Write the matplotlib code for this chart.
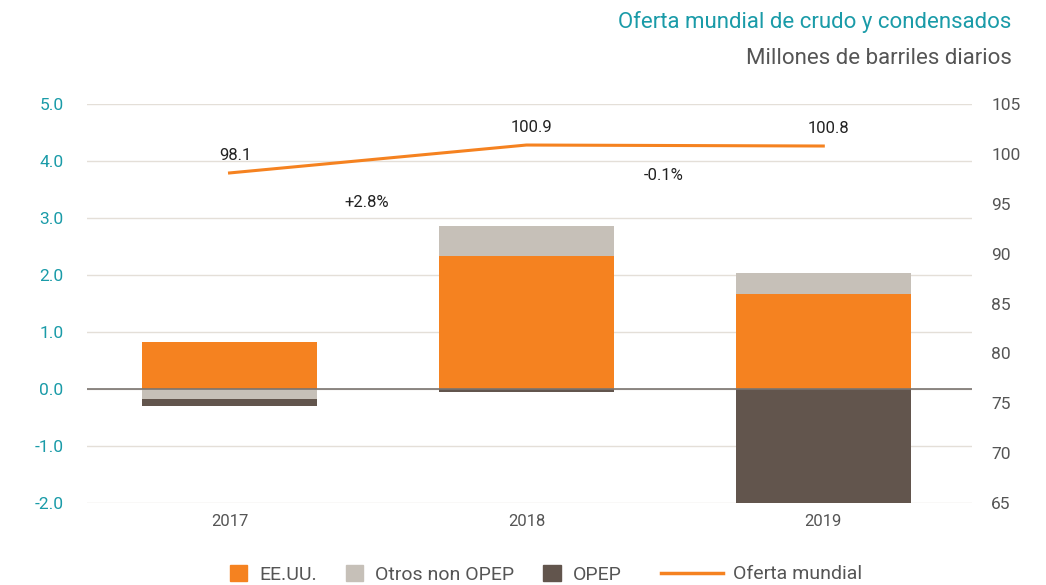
import numpy as np
from matplotlib import pyplot as plt
from matplotlib.lines import Line2D
from matplotlib.patches import Patch

plt.rcParams['font.family'] = ['Roboto', 'DejaVu Sans']

years = ['2017', '2018', '2019']
eeuu = [0.82, 2.33, 1.67]
otros = [-0.18, 0.53, 0.37]
opep = [-0.12, -0.05, -2.0]
oferta = [98.1, 100.9, 100.8]
cambios = ['+2.8%', '-0.1%']

orange = '#F58220'
light = '#C6C0B8'
dark = '#62554D'
teal = '#1A9BA8'
grey = '#555555'

fig = plt.figure(figsize=(10.46, 5.85), dpi=100)
ax = fig.add_axes([0.0832, 0.140, 0.8458, 0.682])
x = np.arange(len(years))
w = 0.59

# stack positives upward, negatives downward
pos = np.zeros(len(years))
neg = np.zeros(len(years))
for vals, col in [(eeuu, orange), (otros, light), (opep, dark)]:
    vals = np.array(vals)
    base = np.where(vals >= 0, pos, neg)
    ax.bar(x, vals, w, bottom=base, color=col, zorder=3)
    pos = pos + np.where(vals >= 0, vals, 0)
    neg = neg + np.where(vals < 0, vals, 0)

ax.set_xlim(-0.48, 2.5)
ax.set_ylim(-2, 5)
ax.set_yticks(np.arange(-2, 5.1, 1))
ax.set_yticklabels([f'{v:.1f}' for v in np.arange(-2, 5.1, 1)])
ax.grid(axis='y', color='#E4DFD8', linewidth=1, zorder=0)
ax.axhline(0, color='#7A7470', linewidth=1.2, zorder=4)
ax.set_xticks(x)
ax.set_xticklabels(years)
for s in ax.spines.values():
    s.set_visible(False)
ax.tick_params(axis='y', length=0, labelsize=12.5, labelcolor=teal, pad=17)
ax.tick_params(axis='x', length=0, labelsize=12, labelcolor=grey, pad=8)

ax2 = ax.twinx()
ax2.plot(x, oferta, color=orange, linewidth=2.2, zorder=5)
ax2.set_ylim(65, 105)
ax2.set_yticks(np.arange(65, 106, 5))
for s in ax2.spines.values():
    s.set_visible(False)
ax2.tick_params(axis='y', length=0, labelsize=12.5, labelcolor=grey, pad=14)

for xi, v in zip(x, oferta):
    ax2.annotate(f'{v:.1f}', (xi, v), xytext=(4, 7), textcoords='offset points',
                 ha='center', va='bottom', fontsize=12, color='#222222')
for i, c in enumerate(cambios):
    ax2.annotate(c, (i + 0.5, min(oferta[i], oferta[i + 1])), xytext=(-8, -16),
                 textcoords='offset points', ha='center', va='top',
                 fontsize=12, color='#222222')

fig.text(0.967, 0.962, 'Oferta mundial de crudo y condensados', ha='right', va='center',
         fontsize=16, color=teal)
fig.text(0.967, 0.900, 'Millones de barriles diarios', ha='right', va='center',
         fontsize=16, color=grey)

bar_handles = [Patch(color=orange), Patch(color=light), Patch(color=dark)]
fig.legend(bar_handles, ['EE.UU.', 'Otros non OPEP', 'OPEP'], loc='center left',
           bbox_to_anchor=(0.203, 0.018), ncol=3, frameon=False, fontsize=14,
           labelcolor=grey, handlelength=0.9, handleheight=0.9,
           columnspacing=1.5, handletextpad=0.6)
fig.legend([Line2D([], [], color=orange, linewidth=2.5)], ['Oferta mundial'],
           loc='center left', bbox_to_anchor=(0.615, 0.018), frameon=False,
           fontsize=14, labelcolor=grey, handlelength=3.2, handletextpad=0.5)

fig.savefig('out.png', dpi=100)
